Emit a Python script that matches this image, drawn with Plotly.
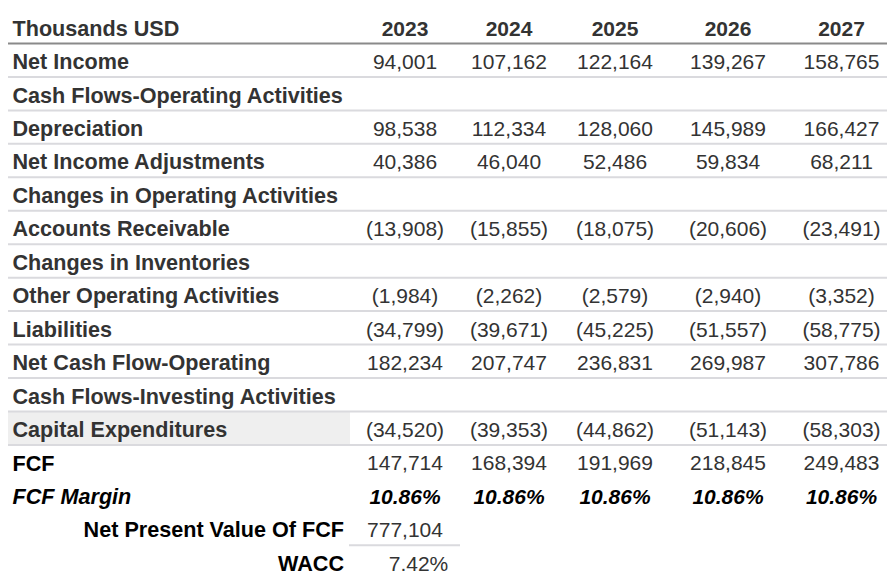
import plotly.graph_objects as go

# ---------------- data ----------------
years = ["2023", "2024", "2025", "2026", "2027"]
header_label = "Thousands USD"

row_labels = [
    "Net Income",
    "Cash Flows-Operating Activities",
    "Depreciation",
    "Net Income Adjustments",
    "Changes in Operating Activities",
    "Accounts Receivable",
    "Changes in Inventories",
    "Other Operating Activities",
    "Liabilities",
    "Net Cash Flow-Operating",
    "Cash Flows-Investing Activities",
    "Capital Expenditures",
    "FCF",
    "FCF Margin",
]

net_income = [94001, 107162, 122164, 139267, 158765]
depreciation = [98538, 112334, 128060, 145989, 166427]
net_income_adjustments = [40386, 46040, 52486, 59834, 68211]
accounts_receivable = [-13908, -15855, -18075, -20606, -23491]
other_operating_activities = [-1984, -2262, -2579, -2940, -3352]
liabilities = [-34799, -39671, -45225, -51557, -58775]
net_cash_flow_operating = [182234, 207747, 236831, 269987, 307786]
capital_expenditures = [-34520, -39353, -44862, -51143, -58303]
fcf = [147714, 168394, 191969, 218845, 249483]
fcf_margin_pct = [10.86, 10.86, 10.86, 10.86, 10.86]

summary_labels = ["Net Present Value Of FCF", "WACC"]
npv_of_fcf = 777104
wacc_pct = 7.42

# rows of the body, in order (None = section heading row without values)
body_values = [
    net_income, None, depreciation, net_income_adjustments, None,
    accounts_receivable, None, other_operating_activities, liabilities,
    net_cash_flow_operating, None, capital_expenditures, fcf, fcf_margin_pct,
]

# ---------------- layout / style constants ----------------
WIN_W, WIN_H = 895, 580
PAGE_MARGIN = 8            # default body margin of the html page
W, H = WIN_W - PAGE_MARGIN, WIN_H - PAGE_MARGIN
FONT = "Liberation Sans, Arial, Helvetica, sans-serif"
FS = 21
FS_BOLD = 21.6
TXT = "#333333"
BLACK = "#000000"
COL_CENTERS = [405, 509, 615, 728, 841.5]
LABEL_X = 12.5
SUMMARY_LABEL_X = 344
SUMMARY_VALUE_X = [405, 418.5]
TABLE_X0 = 7
LABEL_COL_X1 = 350
TEXT_DY = 0.105
ROW_PX = 33.45
TOP_PX = 26.775


def fmt_num(v):
    s = f"{abs(v):,}"
    return f"({s})" if v < 0 else s


def fmt_pct(v):
    return f"{v:.2f}%"


fig = go.Figure()

# header row (row index 0)
fig.add_trace(go.Scatter(
    x=[LABEL_X], y=[0 + TEXT_DY], mode="text",
    text=[f"<b>{header_label}</b>"], textposition="middle right",
    textfont=dict(family=FONT, size=FS_BOLD, color=TXT),
    hoverinfo="skip", showlegend=False,
))
fig.add_trace(go.Scatter(
    x=COL_CENTERS, y=[0 + TEXT_DY] * len(years), mode="text",
    text=[f"<b>{y}</b>" for y in years], textposition="middle center",
    textfont=dict(family=FONT, size=FS, color=TXT),
    hoverinfo="skip", showlegend=False,
))

# body labels
n_body = len(row_labels)
label_text, label_colors = [], []
for i, lab in enumerate(row_labels):
    if lab == "FCF Margin":
        label_text.append(f"<b><i>{lab}</i></b>")
        label_colors.append(BLACK)
    elif lab == "FCF":
        label_text.append(f"<b>{lab}</b>")
        label_colors.append(BLACK)
    else:
        label_text.append(f"<b>{lab}</b>")
        label_colors.append(TXT)

fig.add_trace(go.Scatter(
    x=[LABEL_X] * n_body, y=[i + 1 + TEXT_DY for i in range(n_body)],
    mode="text", text=label_text, textposition="middle right",
    textfont=dict(family=FONT, size=FS_BOLD, color=label_colors),
    hoverinfo="skip", showlegend=False,
))

# body values, one trace per year column
for c, yr in enumerate(years):
    xs, ys, ts, cols = [], [], [], []
    for i, vals in enumerate(body_values):
        if vals is None:
            continue
        if vals is fcf_margin_pct:
            t = f"<b><i>{fmt_pct(vals[c])}</i></b>"
            col = BLACK
        else:
            t = fmt_num(vals[c])
            col = TXT
        xs.append(COL_CENTERS[c])
        ys.append(i + 1 + TEXT_DY)
        ts.append(t)
        cols.append(col)
    fig.add_trace(go.Scatter(
        x=xs, y=ys, mode="text", text=ts, textposition="middle center",
        textfont=dict(family=FONT, size=FS, color=cols),
        hoverinfo="skip", showlegend=False, name=yr,
    ))

# summary rows
first_summary = n_body + 1
fig.add_trace(go.Scatter(
    x=[SUMMARY_LABEL_X] * 2,
    y=[first_summary + k + TEXT_DY for k in range(2)],
    mode="text", text=[f"<b>{s}</b>" for s in summary_labels],
    textposition="middle left",
    textfont=dict(family=FONT, size=FS_BOLD, color=BLACK),
    hoverinfo="skip", showlegend=False,
))
fig.add_trace(go.Scatter(
    x=SUMMARY_VALUE_X,
    y=[first_summary + k + TEXT_DY for k in range(2)],
    mode="text", text=[fmt_num(npv_of_fcf), fmt_pct(wacc_pct)],
    textposition="middle center",
    textfont=dict(family=FONT, size=FS, color=TXT),
    hoverinfo="skip", showlegend=False,
))

# ---------------- shapes: fills and rules ----------------
shapes = []
capex_row = row_labels.index("Capital Expenditures") + 1
shapes.append(dict(type="rect", xref="x", yref="y", x0=TABLE_X0, x1=LABEL_COL_X1,
                   y0=capex_row - 0.5, y1=capex_row + 0.5,
                   fillcolor="#efefef", line=dict(width=0), layer="below"))
# header rule
shapes.append(dict(type="line", xref="x", yref="y", x0=TABLE_X0, x1=WIN_W,
                   y0=0.5, y1=0.5, line=dict(color="#8a8a8a", width=2)))
# body rules up to capital expenditures
for r in range(1, capex_row + 1):
    shapes.append(dict(type="line", xref="x", yref="y", x0=TABLE_X0, x1=WIN_W,
                       y0=r + 0.5, y1=r + 0.5, line=dict(color="#dadade", width=2)))
# rule under NPV value cell
shapes.append(dict(type="line", xref="x", yref="y", x0=LABEL_COL_X1 - 1, x1=460,
                   y0=first_summary + 0.5, y1=first_summary + 0.5,
                   line=dict(color="#dadade", width=2)))

# axes expressed in window pixels (x) and row units (y)
y_top = (PAGE_MARGIN - TOP_PX) / ROW_PX
y_bot = (WIN_H - TOP_PX) / ROW_PX

fig.update_layout(
    width=W, height=H,
    margin=dict(l=0, r=0, t=0, b=0),
    paper_bgcolor="white", plot_bgcolor="white",
    xaxis=dict(range=[PAGE_MARGIN, WIN_W], visible=False, fixedrange=True),
    yaxis=dict(range=[y_bot, y_top], visible=False, fixedrange=True),
    shapes=shapes,
    showlegend=False,
    font=dict(family=FONT),
)

fig.write_html("out.html")
